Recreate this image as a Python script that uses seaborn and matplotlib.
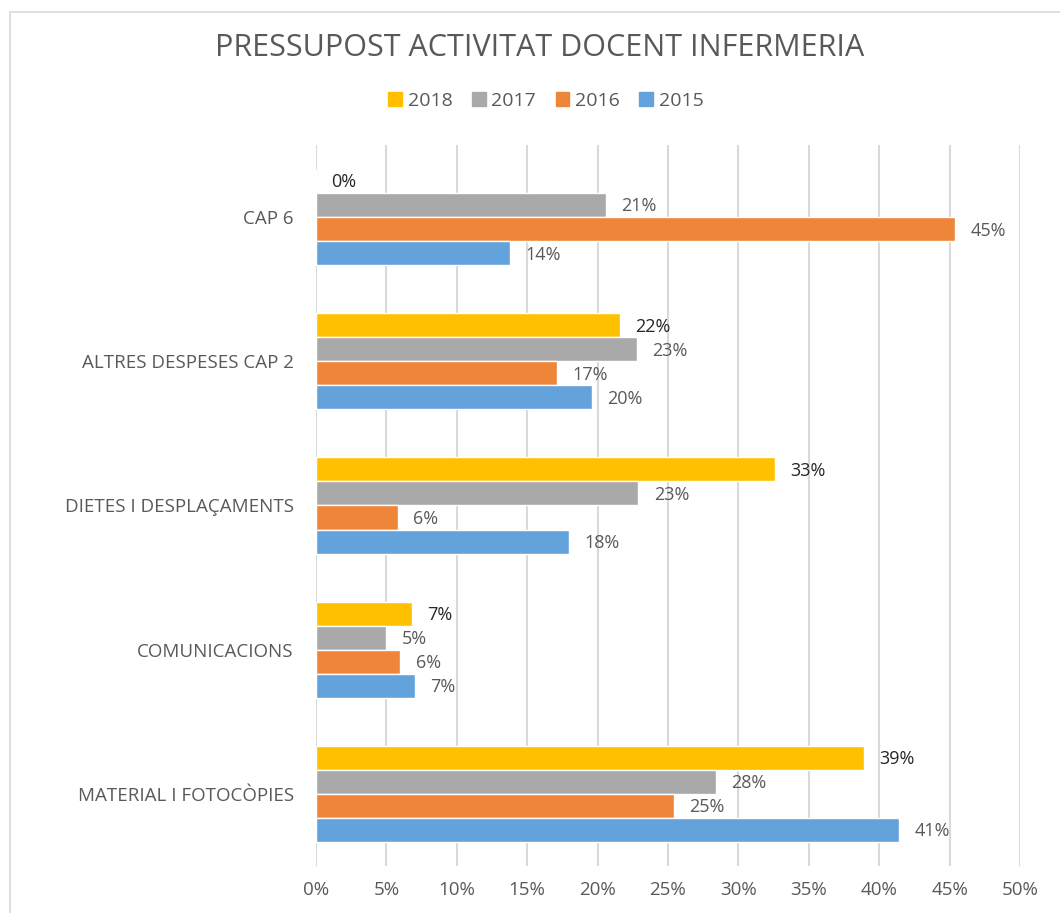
import pandas as pd
import numpy as np
import matplotlib.pyplot as plt
import seaborn as sns
import matplotlib.patches as patches
from matplotlib.ticker import FuncFormatter

# ---- dades ----
categories = ["CAP 6", "ALTRES DESPESES CAP 2", "DIETES I DESPLAÇAMENTS",
              "COMUNICACIONS", "MATERIAL I FOTOCÒPIES"]
years = ["2018", "2017", "2016", "2015"]
val_2018 = [0.0, 21.6, 32.6, 6.8, 38.9]
val_2017 = [20.6, 22.8, 22.9, 5.0, 28.4]
val_2016 = [45.4, 17.1, 5.8, 6.0, 25.4]
val_2015 = [13.8, 19.6, 18.0, 7.0, 41.4]
xticks = [0, 5, 10, 15, 20, 25, 30, 35, 40, 45, 50]

colors = {"2018": "#FFC000", "2017": "#A9A9A9", "2016": "#EE8539", "2015": "#63A2DA"}

rows = []
for year, vals in zip(years, [val_2018, val_2017, val_2016, val_2015]):
    for cat, v in zip(categories, vals):
        rows.append({"cat": cat, "year": year, "val": v})
df = pd.DataFrame(rows)

sns.set_style("white")
plt.rcParams['font.family'] = ['Open Sans', 'DejaVu Sans']

fig = plt.figure(figsize=(10.6, 9.13), dpi=100)
ax = fig.add_axes([316/1060, 1 - 866/913, (1020 - 316)/1060, (866 - 145)/913])

sns.barplot(data=df, x="val", y="cat", hue="year", order=categories,
            hue_order=years, palette=colors, orient="h", width=0.667,
            saturation=1, ax=ax, legend=False, errorbar=None)

ax.set_xlim(0, 50)
ax.set_xticks(xticks)
ax.xaxis.set_major_formatter(FuncFormatter(lambda v, p: f"{v:.0f}%"))
ax.grid(axis="x", color="#D9D9D9", linewidth=1.5)
ax.set_axisbelow(True)
for s in ax.spines.values():
    s.set_visible(False)
ax.set_xlabel("")
ax.set_ylabel("")
ax.tick_params(axis="x", colors="#595959", labelsize=13.5, length=0, pad=11)
ax.tick_params(axis="y", colors="#595959", labelsize=13.5, length=0, pad=16)

# etiquetes de dades
for cont, year in zip(ax.containers, years):
    col = "#262626" if year == "2018" else "#595959"
    for bar in cont:
        w = bar.get_width()
        yc = bar.get_y() + bar.get_height() / 2
        ax.annotate(f"{w:.0f}%", (w, yc), xytext=(11, -1), textcoords="offset points",
                    ha="left", va="center", fontsize=13, color=col)

# llegenda
handles = [patches.Patch(color=colors[y], label=y) for y in years]
fig.legend(handles=handles, loc="center", bbox_to_anchor=(0.515, 1 - 101/913), ncol=4,
           frameon=False, fontsize=14, handlelength=0.7, handleheight=0.7,
           handletextpad=0.3, columnspacing=1.0, labelcolor="#595959")

fig.text(0.509, 1 - 48/913, "PRESSUPOST ACTIVITAT DOCENT INFERMERIA",
         ha="center", va="center", fontsize=22, color="#595959")

# marc
fig.patches.append(patches.Rectangle((10/1060, -0.01), 1.0, 1 - 12/913 + 0.01,
                                     transform=fig.transFigure, fill=False,
                                     edgecolor="#D9D9D9", linewidth=1.2))

fig.savefig("out.png", dpi=100)
